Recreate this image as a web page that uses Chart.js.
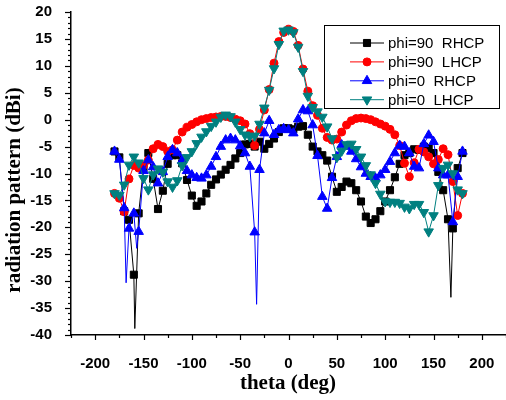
<!DOCTYPE html>
<html><head><meta charset="utf-8">
<script src="https://cdn.jsdelivr.net/npm/chart.js@4.4.1/dist/chart.umd.min.js"></script>
<style>html,body{margin:0;padding:0;background:#fff;}#wrap{width:506px;height:400px;}</style>
</head><body><div id="wrap"><canvas id="c" width="506" height="400"></canvas></div>
<script>
const theta = [-180,-175,-170,-165,-160,-155,-150,-145,-140,-135,-130,-125,-120,-115,-110,-105,-100,-95,-90,-85,-80,-75,-70,-65,-60,-55,-50,-45,-40,-35,-30,-25,-20,-15,-10,-5,0,5,10,15,20,25,30,35,40,45,50,55,60,65,70,75,80,85,90,95,100,105,110,115,120,125,130,135,140,145,150,155,160,165,170,175,180];
const seriesNames = ['phi=90  RHCP','phi=90  LHCP','phi=0  RHCP','phi=0  LHCP'];
const phi90RHCP = [-5.9,-7.0,-17.0,-18.6,-28.8,-17.4,-9.0,-6.2,-11.0,-16.6,-13.2,-8.2,-6.6,-6.6,-8.1,-11.2,-14.1,-16.0,-15.2,-13.7,-12.1,-11.1,-10.2,-9.3,-8.4,-7.2,-6.2,-4.6,-4.5,-5.0,-4.1,-5.4,-4.5,-3.5,-2.3,-1.6,-1.6,-1.8,-1.3,-1.2,-2.8,-5.0,-5.9,-6.6,-7.6,-10.6,-13.4,-12.5,-11.5,-11.8,-13.1,-15.2,-18.0,-19.2,-18.5,-17.0,-15.2,-13.1,-10.7,-8.2,-6.6,-6.2,-5.5,-5.6,-5.0,-5.3,-6.2,-9.7,-13.1,-18.5,-20.2,-9.0,-6.2];
const phi90LHCP = [-13.7,-14.6,-17.1,-11.0,-8.5,-9.0,-8.5,-7.5,-5.4,-4.6,-5.0,-5.9,-5.6,-3.8,-2.3,-1.4,-0.9,-0.4,0.0,0.2,0.4,0.5,0.6,0.6,0.4,0.1,-0.2,-0.8,-2.6,-4.8,-1.8,1.8,5.6,10.5,14.5,16.2,16.8,16.4,13.8,9.4,5.3,2.6,0.8,-1.6,-3.3,-3.8,-3.6,-2.3,-1.0,-0.2,0.2,0.3,0.2,0.0,-0.4,-0.8,-1.2,-1.8,-2.8,-4.8,-8.1,-10.6,-8.0,-5.5,-6.0,-6.9,-8.2,-7.4,-5.4,-6.5,-11.5,-17.8,-13.7];
const phi0RHCP = [-5.9,-7.4,-16.4,-20.2,-17.4,-20.8,-9.5,-7.5,-8.8,-11.8,-9.7,-6.9,-5.6,-6.2,-7.6,-9.5,-10.3,-10.8,-10.9,-10.3,-8.7,-6.9,-5.0,-3.8,-3.5,-3.8,-4.9,-6.2,-8.7,-20.9,-9.3,-2.5,-0.2,-2.8,-1.9,-1.7,-1.9,-2.5,0.1,1.8,1.6,-1.0,-6.7,-14.3,-16.5,-10.8,-6.9,-4.7,-5.0,-5.9,-7.3,-8.8,-10.0,-10.6,-10.9,-10.3,-9.3,-7.8,-6.2,-4.8,-5.0,-6.2,-8.7,-9.0,-4.5,-2.9,-4.1,-9.0,-10.3,-10.3,-19.0,-10.6,-5.9];
const phi0LHCP = [-13.7,-14.0,-12.1,-8.4,-6.9,-8.0,-10.9,-13.0,-10.2,-9.1,-9.7,-11.5,-12.5,-11.3,-8.5,-7.0,-5.9,-4.4,-3.2,-2.2,-1.2,-0.4,0.5,0.9,0.6,-0.4,-1.8,-2.8,-3.1,-3.0,-0.8,2.2,5.5,9.5,14.0,16.5,16.7,16.2,13.5,9.0,4.4,2.3,1.5,0.5,-1.3,-3.5,-7.0,-5.8,-4.6,-4.5,-5.5,-6.9,-8.5,-10.2,-11.8,-13.8,-15.2,-15.3,-15.3,-15.5,-16.2,-16.5,-15.7,-15.7,-17.2,-20.8,-17.8,-12.2,-9.0,-8.4,-10.0,-13.0,-13.7];
// deep nulls drawn by the line only (no marker)
const phi90RHCPNullTheta = [-159, 168];
const phi90RHCPNullVal = [-38.8, -33.0];
const phi90LHCPNullTheta = [];
const phi90LHCPNullVal = [];
const phi0RHCPNullTheta = [-168, -157, -33];
const phi0RHCPNullVal = [-30.3, -23.9, -34.3];
const phi0LHCPNullTheta = [];
const phi0LHCPNullVal = [];
const xTickValues = [-200,-150,-100,-50,0,50,100,150,200];
const yTickValues = [20,15,10,5,0,-5,-10,-15,-20,-25,-30,-35,-40];

function buildPoints(vals, nt, nv) {
  const pts = theta.map((t, i) => ({x: t, y: vals[i], m: true}));
  nt.forEach((t, i) => pts.push({x: t, y: nv[i], m: false}));
  pts.sort((a, b) => a.x - b.x);
  return pts;
}
const styles = [
  {color: '#000000', pointStyle: 'rect', radius: 5, rotation: 0},
  {color: '#FF0000', pointStyle: 'circle', radius: 4, rotation: 0},
  {color: '#0000FF', pointStyle: 'triangle', radius: 5.5, rotation: 0},
  {color: '#008080', pointStyle: 'triangle', radius: 5.5, rotation: 180}
];
const seriesData = [
  buildPoints(phi90RHCP, phi90RHCPNullTheta, phi90RHCPNullVal),
  buildPoints(phi90LHCP, phi90LHCPNullTheta, phi90LHCPNullVal),
  buildPoints(phi0RHCP, phi0RHCPNullTheta, phi0RHCPNullVal),
  buildPoints(phi0LHCP, phi0LHCPNullTheta, phi0LHCPNullVal)
];
const datasets = seriesData.map((d, i) => ({
  label: seriesNames[i], data: d, order: 4 - i,
  borderColor: styles[i].color, backgroundColor: styles[i].color, borderWidth: 1,
  pointStyle: styles[i].pointStyle, pointRotation: styles[i].rotation,
  pointRadius: ctx => (ctx.raw && ctx.raw.m) ? styles[i].radius : 0,
  pointBorderWidth: 1, pointBorderColor: styles[i].color, pointBackgroundColor: styles[i].color,
  tension: 0, clip: false
}));
const decor = {
  id: 'decor',
  afterDraw(chart) {
    const ctx = chart.ctx;
    const xs = chart.scales.x, ys = chart.scales.y;
    const a = chart.chartArea;
    ctx.save();
    ctx.strokeStyle = '#000'; ctx.lineWidth = 1.2;
    for (let v = -40; v <= 20; v++) {
      const y = Math.round(ys.getPixelForValue(v)) + 0.5;
      const len = (v % 5 === 0) ? 6 : 3;
      ctx.beginPath(); ctx.moveTo(a.left, y); ctx.lineTo(a.left - len, y); ctx.stroke();
    }
    for (let v = -225; v <= 225; v += 25) {
      const x = Math.round(xs.getPixelForValue(v)) + 0.5;
      const len = (v % 50 === 0) ? 5 : 3;
      ctx.beginPath(); ctx.moveTo(x, a.bottom); ctx.lineTo(x, a.bottom + len); ctx.stroke();
    }
    ctx.fillStyle = '#000';
    ctx.font = 'bold 21px "Liberation Serif", "Times New Roman", serif';
    ctx.textAlign = 'center'; ctx.textBaseline = 'middle';
    ctx.fillText('theta (deg)', 288, 384);
    ctx.save(); ctx.translate(15, 190); ctx.rotate(-Math.PI / 2);
    ctx.fillText('radiation pattern (dBi)', 0, 0); ctx.restore();
    ctx.lineWidth = 1; ctx.strokeStyle = '#000'; ctx.fillStyle = '#fff';
    ctx.fillRect(324.5, 25.5, 175, 83); ctx.strokeRect(324.5, 25.5, 175, 83);
    ctx.font = '15px "Liberation Sans", Arial, sans-serif'; ctx.textAlign = 'left';
    for (let i = 0; i < 4; i++) {
      const y = 43 + i * 18.9; const st = styles[i];
      ctx.strokeStyle = st.color; ctx.lineWidth = 1;
      ctx.beginPath(); ctx.moveTo(350, y); ctx.lineTo(384, y); ctx.stroke();
      ctx.fillStyle = st.color;
      Chart.helpers.drawPoint(ctx, {pointStyle: st.pointStyle, radius: st.radius, rotation: st.rotation, borderWidth: 1}, 367, y);
      ctx.fillStyle = '#000';
      ctx.fillText(seriesNames[i], 388, y + 1);
    }
    ctx.restore();
  }
};
Chart.defaults.font.family = '"Liberation Sans", Arial, sans-serif';
Chart.defaults.color = '#000';
new Chart(document.getElementById('c'), {
  type: 'line', data: {datasets},
  options: {
    responsive: false, animation: false,
    layout: {autoPadding: false, padding: {top: 12, right: 0, bottom: 0, left: 0}},
    plugins: {legend: {display: false}, tooltip: {enabled: false}},
    scales: {
      x: {
        type: 'linear', min: -225, max: 225,
        afterBuildTicks: s => { s.ticks = xTickValues.map(v => ({value: v})); },
        afterFit: s => { s.height = 65; s.paddingLeft = 0; s.paddingRight = 0; },
        grid: {display: false}, border: {display: true, color: '#000', width: 1.5},
        ticks: {font: {size: 15, weight: 'bold'}, color: '#000', padding: 12, maxRotation: 0}
      },
      y: {
        type: 'linear', min: -40, max: 20,
        afterBuildTicks: s => { s.ticks = yTickValues.map(v => ({value: v})); },
        afterFit: s => { s.width = 71; s.paddingTop = 0; s.paddingBottom = 0; },
        grid: {display: false}, border: {display: true, color: '#000', width: 1.5},
        ticks: {font: {size: 15, weight: 'bold'}, color: '#000', padding: 11}
      }
    }
  },
  plugins: [decor]
});
</script></body></html>
